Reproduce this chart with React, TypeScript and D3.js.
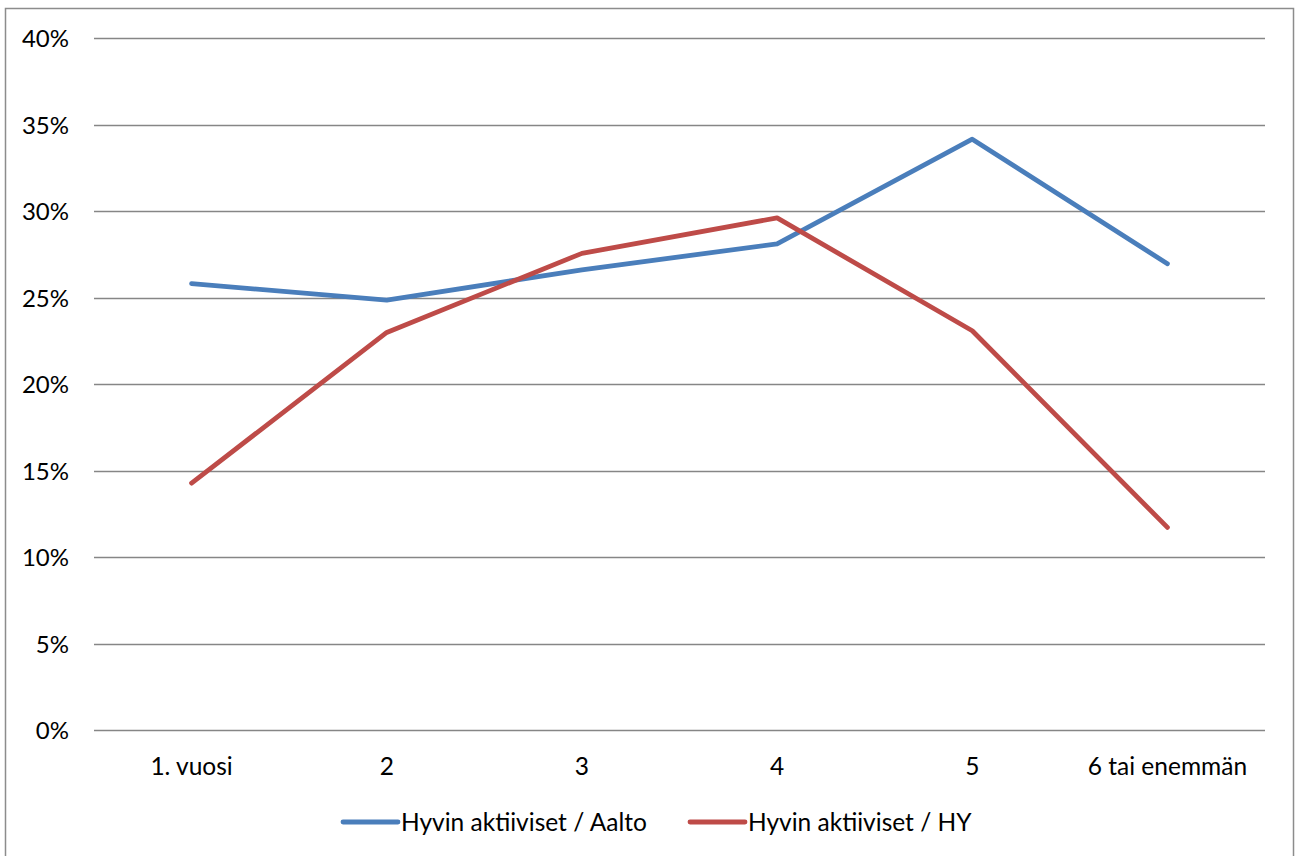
import * as d3 from "d3";
import { useEffect, useRef } from "react";

/* Data ------------------------------------------------------------- */

const CATEGORIES = ["1. vuosi", "2", "3", "4", "5", "6 tai enemmän"];
const AALTO = [0.258, 0.2485, 0.266, 0.281, 0.3415, 0.2695];
const HY = [0.1427, 0.2298, 0.2755, 0.296, 0.2308, 0.1171];
const Y_TICKS = [0, 0.05, 0.1, 0.15, 0.2, 0.25, 0.3, 0.35, 0.4];
const SERIES = [
  { name: "Hyvin aktiiviset / Aalto", values: AALTO, color: "#4A7EBB" },
  { name: "Hyvin aktiiviset / HY", values: HY, color: "#BE4B48" },
];

/* Theme ------------------------------------------------------------ */

const W = 1295;
const H = 856;
const FONT = "Lato, 'Open Sans', sans-serif";
const GRID = "#868686";
const BORDER = "#8c8c8c";

export default function App() {
  const svgRef = useRef<SVGSVGElement>(null);

  useEffect(() => {
    const svg = svgRef.current;
    if (!svg) return;

    const margin = { top: 38, right: 30, bottom: 126, left: 94 };
    const x = d3
      .scaleBand<string>()
      .domain(CATEGORIES)
      .range([margin.left, W - margin.right]);
    const y = d3
      .scaleLinear()
      .domain([0, 0.4])
      .range([H - margin.bottom, margin.top]);

    const sel = d3.select(svg);
    sel.selectAll("*").remove();

    /* Outer frame */
    sel
      .append("rect")
      .attr("x", 5.5)
      .attr("y", 8.5)
      .attr("width", W - 7)
      .attr("height", H + 10)
      .attr("fill", "#fff")
      .attr("stroke", BORDER)
      .attr("stroke-width", 1.5);

    /* Gridlines + y labels */
    const g = sel.append("g");
    Y_TICKS.forEach((t) => {
      const yy = Math.round(y(t)) + 0.5;
      g.append("line")
        .attr("x1", margin.left)
        .attr("x2", W - margin.right)
        .attr("y1", yy)
        .attr("y2", yy)
        .attr("stroke", GRID)
        .attr("stroke-width", 1.5);
      g.append("text")
        .attr("x", 69)
        .attr("y", yy)
        .attr("dy", "0.36em")
        .attr("text-anchor", "end")
        .attr("font-family", FONT)
        .attr("font-size", 24)
        .attr("fill", "#000")
        .text(d3.format(".0%")(t));
    });

    /* X labels */
    CATEGORIES.forEach((c) => {
      g.append("text")
        .attr("x", (x(c) ?? 0) + x.bandwidth() / 2)
        .attr("y", 766)
        .attr("dy", "0.36em")
        .attr("text-anchor", "middle")
        .attr("font-family", FONT)
        .attr("font-size", 24.5)
        .attr("fill", "#000")
        .text(c);
    });

    /* Series lines */
    const line = d3
      .line<number>()
      .x((_, i) => (x(CATEGORIES[i]) ?? 0) + x.bandwidth() / 2)
      .y((d) => y(d));

    SERIES.forEach((s) => {
      g.append("path")
        .attr("d", line(s.values))
        .attr("fill", "none")
        .attr("stroke", s.color)
        .attr("stroke-width", 4.8)
        .attr("stroke-linecap", "round")
        .attr("stroke-linejoin", "round");
    });

    /* Legend */
    const legendX = [343, 690];
    SERIES.forEach((s, i) => {
      const lx = legendX[i];
      g.append("line")
        .attr("x1", lx)
        .attr("x2", lx + 55)
        .attr("y1", 822)
        .attr("y2", 822)
        .attr("stroke", s.color)
        .attr("stroke-width", 4.8)
        .attr("stroke-linecap", "round");
      g.append("text")
        .attr("x", lx + 58)
        .attr("y", 822)
        .attr("dy", "0.36em")
        .attr("font-family", FONT)
        .attr("font-size", 24.5)
        .attr("fill", "#000")
        .text(s.name);
    });
  }, []);

  return (
    <div style={{ position: "absolute", left: 0, top: 0, width: W, height: H, background: "#fff" }}>
      <svg ref={svgRef} width={W} height={H} style={{ display: "block" }} />
    </div>
  );
}
